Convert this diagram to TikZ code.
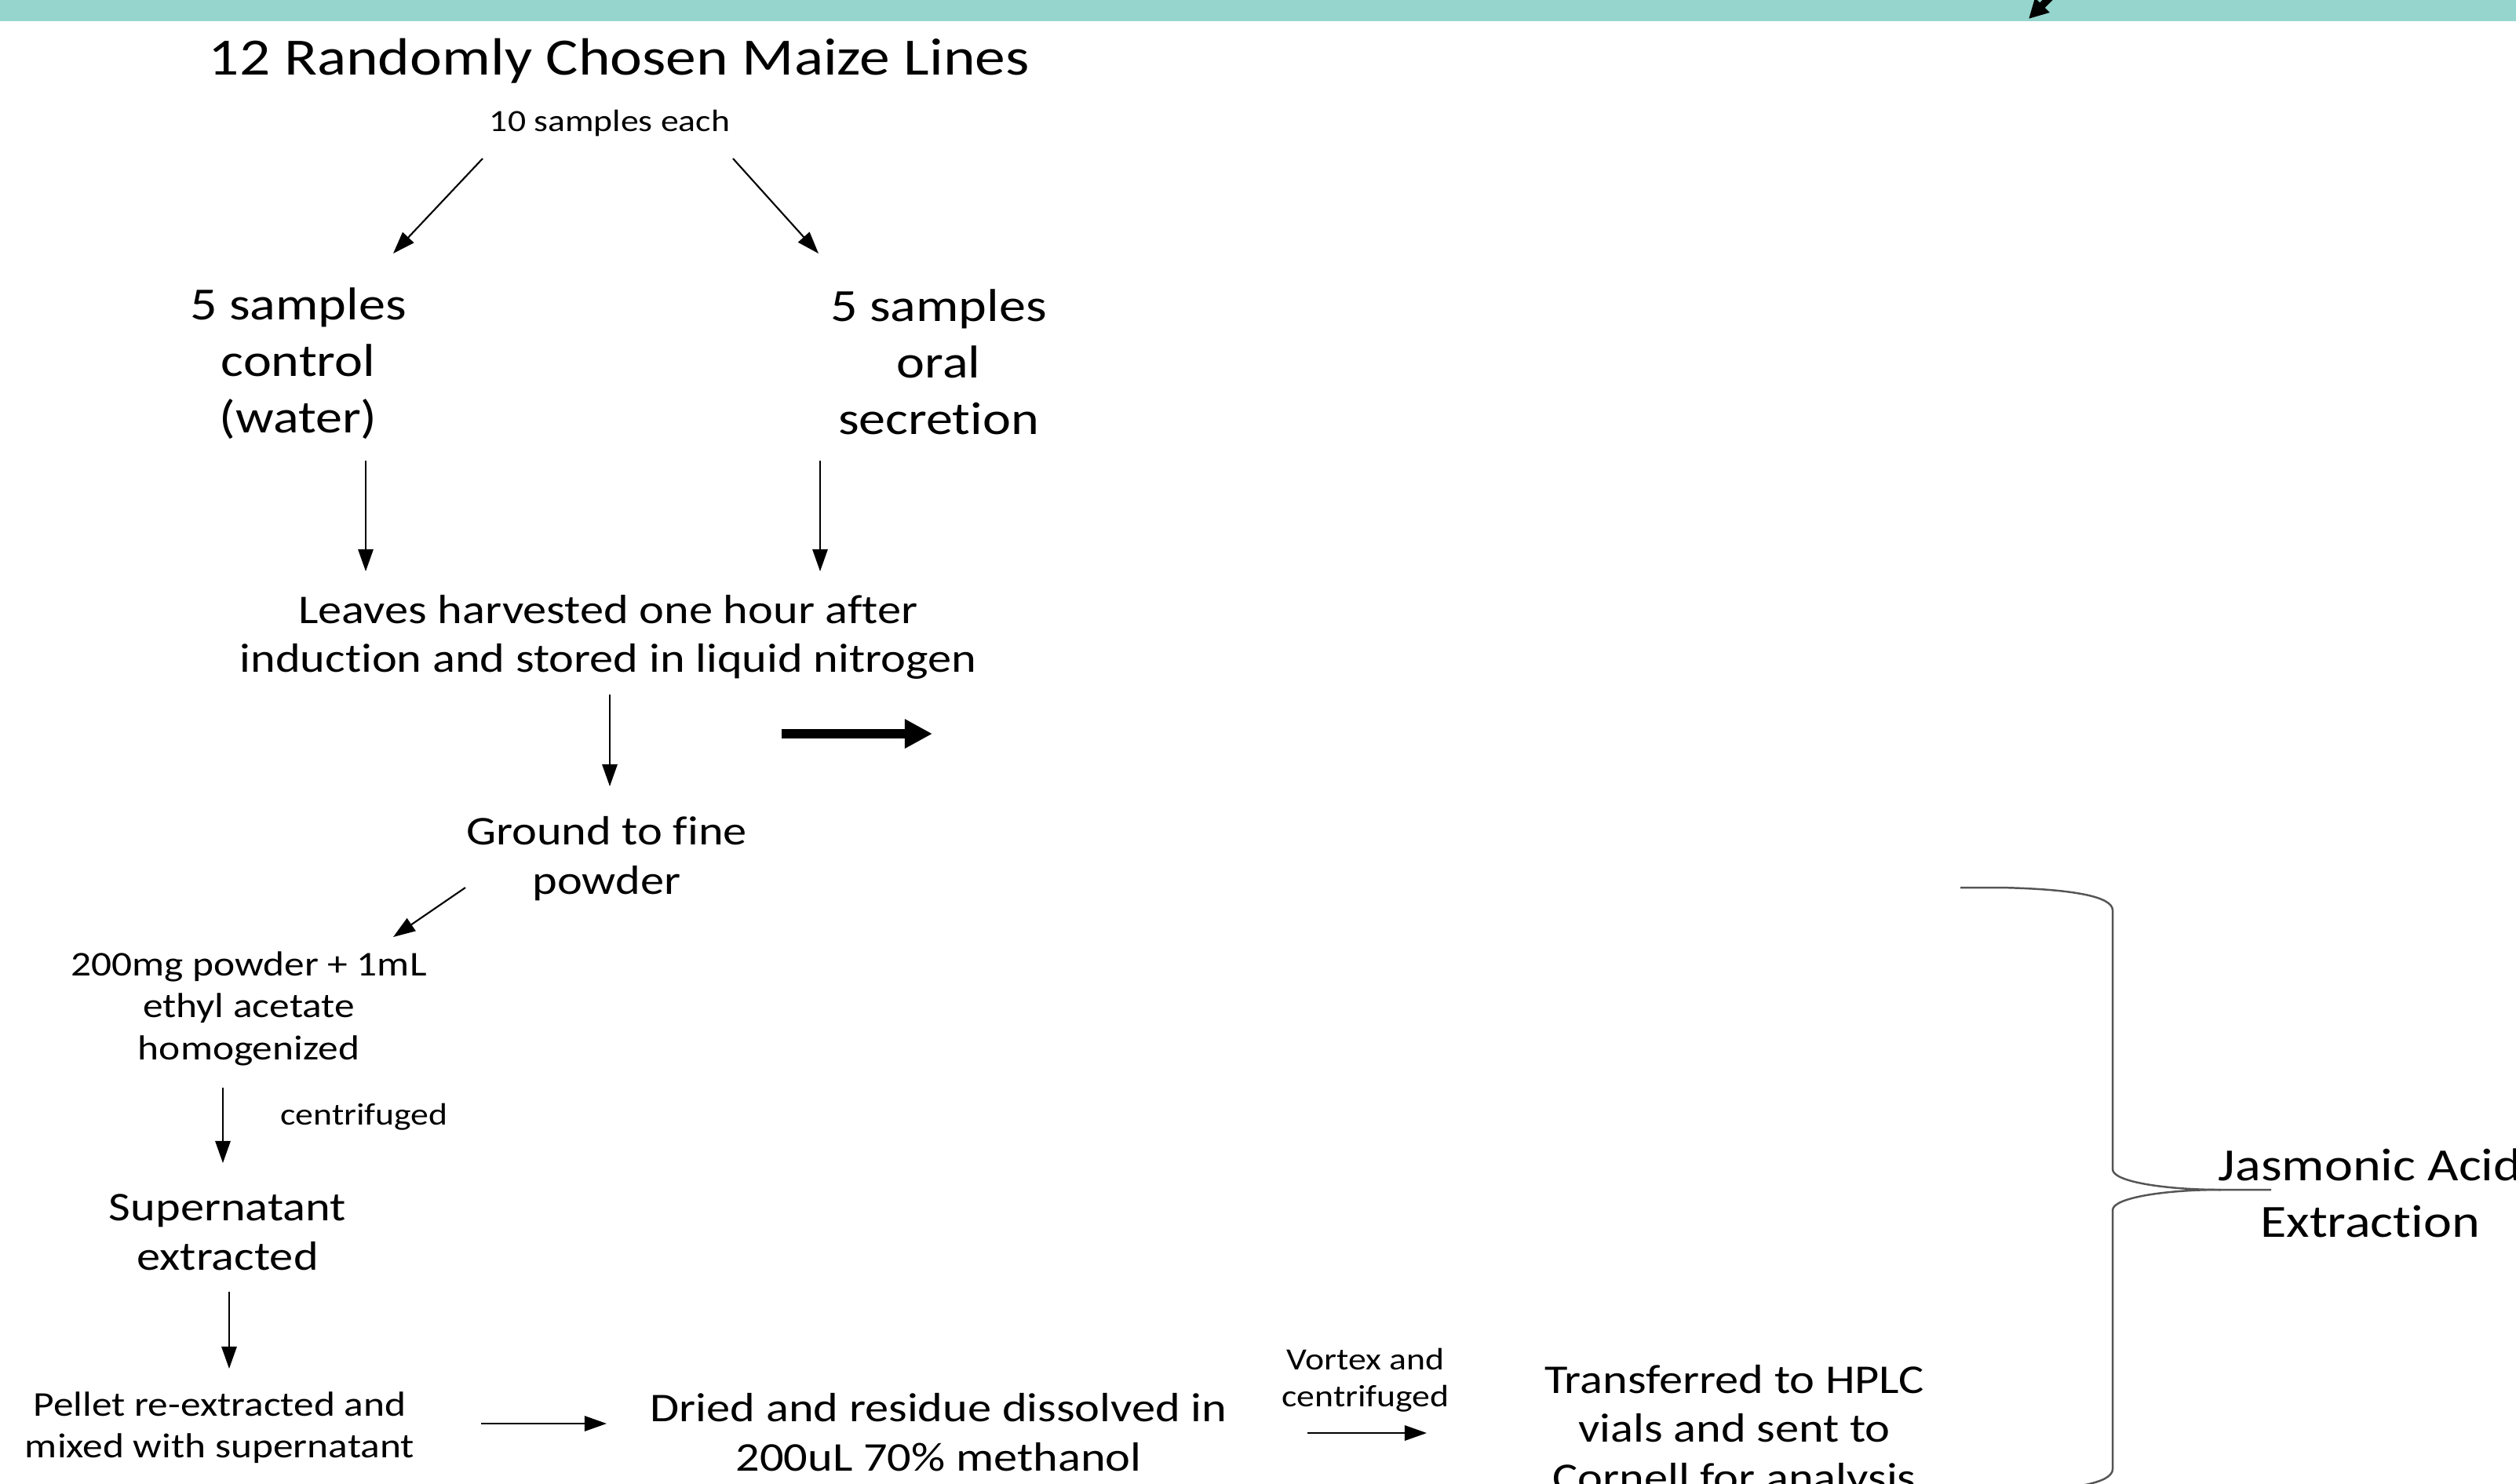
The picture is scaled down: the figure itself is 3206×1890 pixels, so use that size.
\documentclass[tikz,border=0pt]{standalone}
\usepackage{fontspec}
\setmainfont{Carlito}[FakeStretch=1.16,Ligatures=NoCommon]
\usetikzlibrary{arrows.meta}
\definecolor{barteal}{RGB}{150,213,205}
\definecolor{bracegray}{RGB}{85,85,85}
\begin{document}
\begin{tikzpicture}[x=0.01cm,y=-0.01cm,
  txt/.style={align=center,inner sep=0pt,text=black},
  fsA/.style={font=\fontsize{19}{23}\selectfont},
  fsB/.style={font=\fontsize{16.7}{20.5}\selectfont},
  fsC/.style={font=\fontsize{14.8}{17.8}\selectfont},
  fsD/.style={font=\fontsize{12.6}{15.2}\selectfont},
  fsE/.style={font=\fontsize{11.2}{13.4}\selectfont},
  flowarrow/.style={draw=black,line width=0.6pt,-{Triangle[length=8pt,width=5.5pt]}},
  bigarrow/.style={draw=black,line width=3.4pt,-{Triangle[length=10pt,width=10pt]}},
  toparrow/.style={draw=black,line width=2.6pt,-{Triangle[length=7pt,width=7pt]}},
  bracestyle/.style={draw=bracegray,line width=0.7pt}]
\useasboundingbox (0,0) rectangle (3206,1890);
\fill[white] (0,0) rectangle (3206,1890);
\fill[barteal] (0,0) rectangle (3206,27);
% top-right arrow (coming from above)
\coordinate (tA) at (2622,-13);
\coordinate (tB) at (2585,24);
\draw[toparrow] (tA) -- (tB);

% texts
\node[txt,fsA] (title) at (789,78) {12 Randomly Chosen Maize Lines};
\node[txt,fsE] (ten) at (777,157) {10 samples each};
\node[txt,fsB] (ctrl) at (380,463) {5 samples\\control\\(water)};
\node[txt,fsB] (oral) at (1196,461) {5 samples\\oral\\secretion};
\node[txt,fsC] (leaves) at (775,812) {Leaves harvested one hour after\\induction and stored in liquid nitrogen};
\node[txt,fsC] (ground) at (773,1094) {Ground to fine\\powder};
\node[txt,fsD] (powder) at (317,1285) {200mg powder + 1mL\\ethyl acetate\\homogenized};
\node[txt,fsE] (cent1) at (464,1423) {centrifuged};
\node[txt,fsC] (super) at (290,1570) {Supernatant\\extracted};
\node[txt,fsD] (pellet) at (280,1819) {Pellet re-extracted and\\mixed with supernatant};
\node[txt,fsC] (dried) at (1196,1825) {Dried and residue dissolved in\\200uL 70\% methanol};
\node[txt,fsE] (vortex) at (1740,1759) {Vortex and\\centrifuged};
\node[txt,fsC] (hplc) at (2210,1824) {Transferred to HPLC\\vials and sent to\\Cornell for analysis};
\node[txt,fsB] (jasmonic) at (3020,1520) {Jasmonic Acid\\Extraction};

% arrow endpoints
\coordinate (a1s) at (615,202);  \coordinate (a1e) at (501,323);
\coordinate (a2s) at (934,202);  \coordinate (a2e) at (1043,323);
\coordinate (a3s) at (466,587);  \coordinate (a3e) at (466,728);
\coordinate (a4s) at (1045,587); \coordinate (a4e) at (1045,728);
\coordinate (a5s) at (777,885);  \coordinate (a5e) at (777,1002);
\coordinate (a6s) at (593,1131); \coordinate (a6e) at (501,1194);
\coordinate (a7s) at (284,1386); \coordinate (a7e) at (284,1482);
\coordinate (a8s) at (292,1646); \coordinate (a8e) at (292,1744);
\coordinate (a9s) at (613,1814); \coordinate (a9e) at (773,1814);
\coordinate (a10s) at (1666,1826); \coordinate (a10e) at (1818,1826);
\coordinate (bas) at (996,935);  \coordinate (bae) at (1188,935);

\draw[flowarrow] (a1s) -- (a1e);
\draw[flowarrow] (a2s) -- (a2e);
\draw[flowarrow] (a3s) -- (a3e);
\draw[flowarrow] (a4s) -- (a4e);
\draw[flowarrow] (a5s) -- (a5e);
\draw[flowarrow] (a6s) -- (a6e);
\draw[flowarrow] (a7s) -- (a7e);
\draw[flowarrow] (a8s) -- (a8e);
\draw[flowarrow] (a9s) -- (a9e);
\draw[flowarrow] (a10s) -- (a10e);
\draw[bigarrow] (bas) -- (bae);

% brace
\coordinate (brTop) at (2498,1131);
\coordinate (brTip) at (2894,1516);
\coordinate (brBot) at (2498,1901);
\draw[bracestyle] (brTop) -- (2550,1131)
  .. controls (2640,1133) and (2692,1142) .. (2692,1160)
  -- (2692,1490)
  .. controls (2692,1506) and (2760,1516) .. (2830,1516) -- (brTip);
\draw[bracestyle] (2830,1516)
  .. controls (2760,1516) and (2692,1526) .. (2692,1542)
  -- (2692,1872)
  .. controls (2692,1890) and (2640,1899) .. (2550,1901) -- (brBot);
\end{tikzpicture}
\end{document}
